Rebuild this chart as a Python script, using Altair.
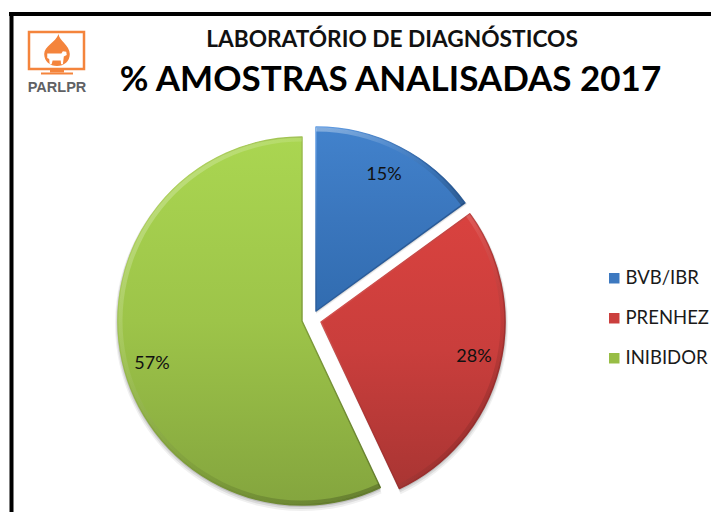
import altair as alt
import pandas as pd

categories = ["BVB/IBR", "PRENHEZ", "INIBIDOR"]
shares = [15, 28, 57]
labels = ["15%", "28%", "57%"]

df = pd.DataFrame({"categoria": categories, "share": shares, "label": labels})
df["start"] = df["share"].cumsum() - df["share"]
df["end"] = df["share"].cumsum()

OX, OY = 8, 8
R = 184
solid = ["#3d79c0", "#cb3f3d", "#98bd45"]
centers = {"BVB/IBR": (316, 311), "PRENHEZ": (321, 322), "INIBIDOR": (302, 321)}
label_pos = {"BVB/IBR": (384, 175), "PRENHEZ": (474, 357), "INIBIDOR": (152, 364)}
grads = {
    "BVB/IBR": ["#4282cc", "#3a76bd", "#316cb0"],
    "PRENHEZ": ["#d9423f", "#c93e3c", "#a93533"],
    "INIBIDOR": ["#aad651", "#9dc449", "#84a53e"],
}
edges = {
    "BVB/IBR": ["#5f9ae0", "#2c5f9e", "#24528c"],
    "PRENHEZ": ["#e86663", "#b03634", "#8a2a2a"],
    "INIBIDOR": ["#bfe36a", "#86a63e", "#667f30"],
}


def grad(stops, x1=0, y1=0, x2=0, y2=1):
    n = len(stops) - 1
    return alt.Gradient(
        gradient="linear", x1=x1, x2=x2, y1=y1, y2=y2,
        stops=[alt.GradientStop(color=c, offset=i / n) for i, c in enumerate(stops)],
    )


def X(v):
    return alt.value(v - OX)


def Y(v):
    return alt.value(v - OY)


base = alt.Chart(df)
theta = alt.Theta("start:Q", scale=alt.Scale(domain=[0, 100], range=[0, 6.28318530718]))
theta2 = alt.Theta2("end:Q")
layers = []

# frame
frame = alt.Chart(pd.DataFrame({"a": [0]}))
layers.append(frame.mark_rule(color="#000000", strokeWidth=4).encode(
    x=X(9), x2=X(719), y=Y(14)))
layers.append(frame.mark_rule(color="#000000", strokeWidth=4).encode(
    x=X(11.5), y=Y(12), y2=Y(520)))

# soft shadows
for cat in categories:
    cx, cy = centers[cat]
    sub = base.transform_filter(alt.datum.categoria == cat)
    for extra, dy, op in [(3, 3, 0.06), (2, 2, 0.09), (1, 1, 0.12)]:
        layers.append(sub.mark_arc(fill="#000000", opacity=op, outerRadius=R + extra, innerRadius=0).encode(
            theta=theta, theta2=theta2, x=X(cx), y=Y(cy + dy)))

# slices, carrying the legend
for cat in categories:
    cx, cy = centers[cat]
    sub = base.transform_filter(alt.datum.categoria == cat)
    layers.append(sub.mark_arc(outerRadius=R, innerRadius=0).encode(
        theta=theta, theta2=theta2, x=X(cx), y=Y(cy),
        color=alt.Color(
            "categoria:N",
            scale=alt.Scale(domain=categories, range=solid),
            legend=alt.Legend(
                title=None, orient="none", legendX=605 - OX, legendY=269 - OY,
                symbolType="square", symbolSize=110, symbolStrokeWidth=0,
                labelFont="Lato", labelFontSize=18.5, labelColor="#1a1a1a",
                rowPadding=21, labelOffset=2, values=categories,
            ),
        ),
    ))
    layers.append(sub.mark_arc(
        outerRadius=R, innerRadius=0, fill=grad(grads[cat]),
        stroke=grad(edges[cat], x1=0.1, y1=0, x2=0.9, y2=1), strokeWidth=1.5, strokeJoin="round",
    ).encode(theta=theta, theta2=theta2, x=X(cx), y=Y(cy)))
    # bevel ring: light on the upper left, dark on the lower right
    layers.append(sub.mark_arc(
        outerRadius=R - 0.5, innerRadius=R - 4.5,
        fill=grad(["#ffffff55", "#ffffff18", "#00000012", "#00000038"], x1=0.1, y1=0, x2=0.9, y2=1),
    ).encode(theta=theta, theta2=theta2, x=X(cx), y=Y(cy)))
    lx, ly = label_pos[cat]
    layers.append(sub.mark_text(font="Lato", fontSize=18, color="#111111", baseline="middle", align="center").encode(
        text="label:N", x=X(lx), y=Y(ly)))

# titles
layers.append(frame.mark_text(text="LABORATÓRIO DE DIAGNÓSTICOS", font="Lato", fontWeight="bold", fontSize=22.7,
                              color="#111111", align="center", baseline="alphabetic").encode(x=X(392), y=Y(47)))
layers.append(frame.mark_text(text="% AMOSTRAS ANALISADAS 2017", font="Lato", fontWeight="bold", fontSize=35,
                              color="#000000", align="center", baseline="alphabetic").encode(x=X(390.5), y=Y(90.5)))

# logo
ORANGE = "#f4843c"
layers.append(frame.mark_rect(fill="#ffffff", stroke=ORANGE, strokeWidth=2.5).encode(
    x=X(29), x2=X(84), y=Y(32), y2=Y(69)))
layers.append(frame.mark_rect(fill=ORANGE).encode(x=X(41), x2=X(73), y=Y(72.5), y2=Y(74.5)))
layers.append(frame.mark_rect(fill=ORANGE).encode(x=X(50), x2=X(64), y=Y(70), y2=Y(72.5)))
DROP = "M0.1,-1 C0.1,-0.6 0.8,-0.3 0.8,0.25 C0.8,0.7 0.45,1 0,1 C-0.45,1 -0.8,0.7 -0.8,0.25 C-0.8,-0.25 -0.1,-0.45 0.1,-1 Z"
COW = ("M-1,-0.35 L0.45,-0.35 L0.6,-0.6 L0.95,-0.55 L1,-0.2 L0.7,-0.05 L0.65,0.35 L0.6,0.75 L0.42,0.75 "
       "L0.38,0.35 L-0.45,0.35 L-0.55,0.75 L-0.75,0.75 L-0.8,0.2 L-1,0.1 Z")
layers.append(frame.mark_point(shape=DROP, filled=True, fill=ORANGE, opacity=1, size=1024, strokeWidth=0).encode(
    x=X(57), y=Y(50)))
layers.append(frame.mark_point(shape=COW, filled=True, fill="#ffffff", opacity=1, size=380, strokeWidth=0).encode(
    x=X(57), y=Y(57)))
layers.append(frame.mark_text(text="PARLPR", font="Liberation Sans", fontWeight="bold", fontSize=14.5,
                              color="#606164", align="center", baseline="alphabetic").encode(x=X(57), y=Y(92)))

chart = alt.layer(*layers).properties(
    width=703, height=504, padding=0,
    autosize=alt.AutoSizeParams(type="none"),
    background="#ffffff",
).configure_view(stroke=None)

chart.save("out.html", embed_options={"renderer": "svg", "actions": False})
